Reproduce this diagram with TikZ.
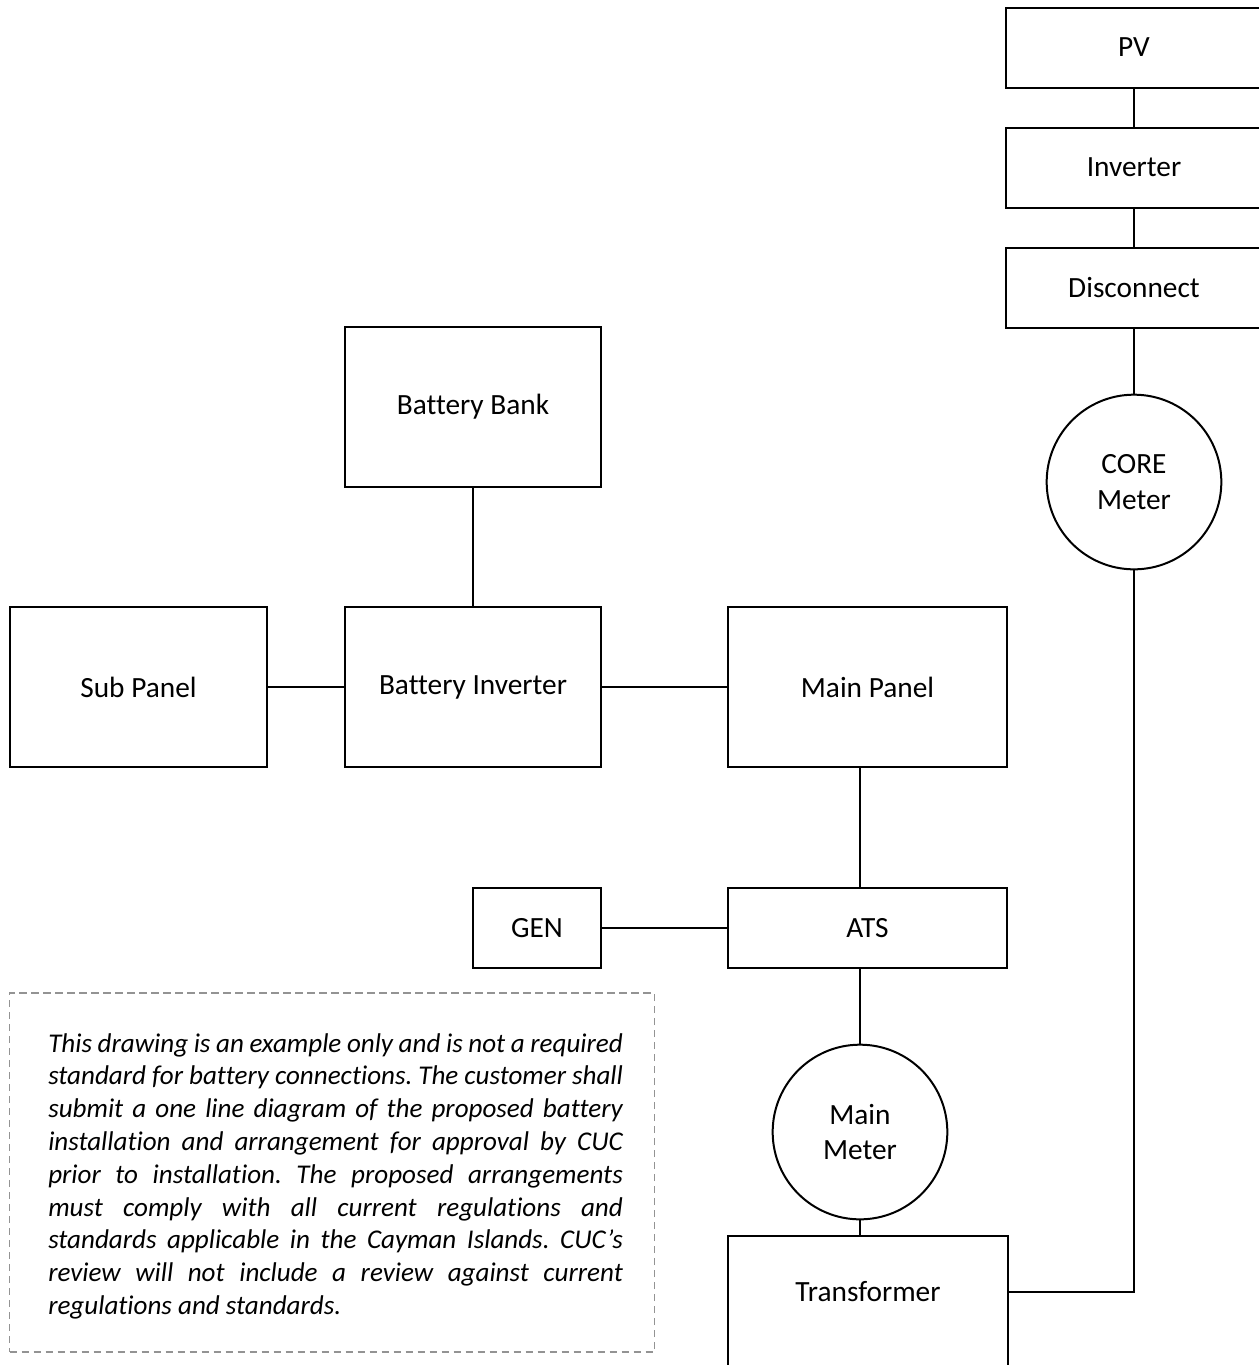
\documentclass[tikz,border=0pt]{standalone}
\usepackage{fontspec}
\setmainfont{Carlito}[Ligatures=CommonOff]
\begin{document}
\frenchspacing
\begin{tikzpicture}[x=0.75pt,y=-0.75pt,
  every node/.style={font=\fontsize{22}{26.5}\selectfont},
  box/.style={draw,line width=1.5pt,rectangle,inner sep=0pt},
  meter/.style={draw,line width=1.5pt,circle,inner sep=0pt,minimum size=131pt,align=center},
  wire/.style={line width=1.5pt},
  note/.style={draw=gray!85,line width=1.2pt,dash pattern=on 5.5pt off 3.5pt}]
\useasboundingbox (0,0) rectangle (1258,1365);
% right column
\node[box,minimum width=192pt,minimum height=60pt] (pv) at (1134,47.5) {PV};
\node[box,minimum width=192pt,minimum height=60pt] (inv) at (1134,167.5) {Inverter};
\node[box,minimum width=192pt,minimum height=60pt] (disc) at (1134,287.5) {Disconnect};
\node[meter] (core) at (1134,482) {CORE\\Meter};
% battery part
\node[box,minimum width=192pt,minimum height=120pt] (bb) at (473,407) {Battery Bank};
\node[box,minimum width=192pt,minimum height=120pt] (binv) at (473,687) {Battery Inverter};
\node[box,minimum width=192.75pt,minimum height=120pt] (sub) at (138.5,687) {Sub Panel};
\node[box,minimum width=209.25pt,minimum height=120pt] (mp) at (867.5,687) {Main Panel};
\node[box,minimum width=209.25pt,minimum height=60pt] (ats) at (867.5,928) {ATS};
\node[box,minimum width=96pt,minimum height=60pt] (gen) at (537,928) {GEN};
\node[meter] (mm) at (860,1132) {Main\\Meter};
\node[box,minimum width=210pt,minimum height=120pt] (tr) at (868,1316) {};
\node (trl) at (868,1292) {Transformer};
% connectors
\draw[wire] (pv) -- (inv);
\draw[wire] (inv) -- (disc);
\draw[wire] (disc) -- (core);
\draw[wire] (core.south) |- (trl -| tr.east);
\draw[wire] (bb) -- (binv);
\draw[wire] (sub) -- (binv);
\draw[wire] (binv) -- (mp);
\draw[wire] (mp.south -| mm) -- (ats.north -| mm);
\draw[wire] (gen) -- (ats);
\draw[wire] (ats.south -| mm) -- (mm);
\draw[wire] (mm) -- (tr.north -| mm);
% note
\node[note,minimum width=483.75pt,minimum height=269.25pt,inner sep=0pt] (notebox) at (332,1172.5) {};
\node[anchor=base west,inner sep=0pt,text width=431pt,align=justify,
  font=\fontsize{20.3}{24.6}\selectfont\itshape] (notetext) at (48,1052)
{This drawing is an example only and is not a required\linebreak
standard for battery connections. The customer shall\linebreak
submit a one line diagram of the proposed battery\linebreak
installation and arrangement for approval by CUC\linebreak
prior to installation. The proposed arrangements\linebreak
must comply with all current regulations and\linebreak
standards applicable in the Cayman Islands. CUC’s\linebreak
review will not include a review against current\linebreak
regulations and standards.};
\end{tikzpicture}
\end{document}
